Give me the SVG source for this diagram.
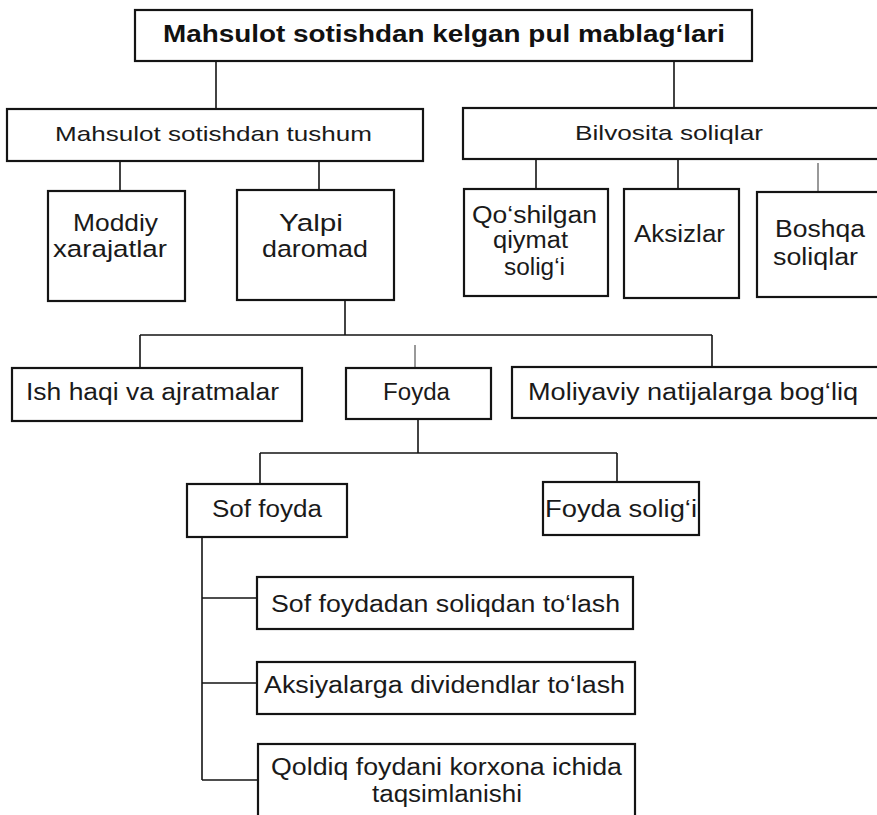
<svg xmlns="http://www.w3.org/2000/svg" width="877" height="815" viewBox="0 0 877 815">
<style>
.box{fill:#fff;stroke:#141414;stroke-width:2.2}
.ln{stroke:#141414;stroke-width:1.6;fill:none}
.faint{stroke:#555;stroke-width:1.2;fill:none}
text{font-family:"Liberation Sans",Arial,sans-serif;font-size:23.5px;fill:#1a1a1a}
.b{font-weight:bold;font-size:23.5px;fill:#111}
.m{font-size:21px}
.l{font-size:24.5px}
</style>
<rect width="877" height="815" fill="#fff"/>
<g id="connectors">
<path class="ln" d="M216 61V108M674 61V108"/>
<path class="ln" d="M120 161V191M319 161V190"/>
<path class="ln" d="M536 159V189M678 159V189"/>
<path class="faint" d="M818 163V192"/>
<path class="ln" d="M345 300V335M140 335H712M140 335V368M712 335V367"/>
<path class="faint" d="M415 345V368"/>
<path class="ln" d="M418 419V453M260 453H617M260 453V484M617 453V482"/>
<path class="ln" d="M202 537V780M202 598H257M202 683H257M202 780H258"/>
</g>
<g id="n-top"><rect class="box" x="135" y="10" width="617" height="51"/><text class="b" x="163" y="42" textLength="562" lengthAdjust="spacingAndGlyphs">Mahsulot sotishdan kelgan pul mablag‘lari</text></g>
<g id="n-tushum"><rect class="box" x="7" y="109" width="416" height="52"/><text class="m" x="55" y="141" textLength="317" lengthAdjust="spacingAndGlyphs">Mahsulot sotishdan tushum</text></g>
<g id="n-bilvosita"><rect class="box" x="463" y="108" width="420" height="51"/><text class="m" x="575" y="140" textLength="188" lengthAdjust="spacingAndGlyphs">Bilvosita soliqlar</text></g>
<g id="n-moddiy"><rect class="box" x="48" y="191" width="137" height="110"/><text class="l" x="73" y="231" textLength="85" lengthAdjust="spacingAndGlyphs">Moddiy</text><text class="l" x="53" y="257" textLength="114" lengthAdjust="spacingAndGlyphs">xarajatlar</text></g>
<g id="n-yalpi"><rect class="box" x="237" y="190" width="157" height="110"/><text class="l" x="279" y="231" textLength="64" lengthAdjust="spacingAndGlyphs">Yalpi</text><text class="l" x="262" y="257" textLength="106" lengthAdjust="spacingAndGlyphs">daromad</text></g>
<g id="n-qqs"><rect class="box" x="464" y="189" width="144" height="107"/><text x="472" y="223" textLength="125" lengthAdjust="spacingAndGlyphs">Qo‘shilgan</text><text x="493" y="248" textLength="75" lengthAdjust="spacingAndGlyphs">qiymat</text><text x="504" y="275" textLength="61" lengthAdjust="spacingAndGlyphs">solig‘i</text></g>
<g id="n-aksizlar"><rect class="box" x="624" y="189" width="115" height="109"/><text x="634" y="242" textLength="91" lengthAdjust="spacingAndGlyphs">Aksizlar</text></g>
<g id="n-boshqa"><rect class="box" x="757" y="192" width="125" height="105"/><text x="775" y="237" textLength="90" lengthAdjust="spacingAndGlyphs">Boshqa</text><text x="773" y="265" textLength="85" lengthAdjust="spacingAndGlyphs">soliqlar</text></g>
<g id="n-ishhaqi"><rect class="box" x="12" y="368" width="290" height="53"/><text x="26" y="400" textLength="253" lengthAdjust="spacingAndGlyphs">Ish haqi va ajratmalar</text></g>
<g id="n-foyda"><rect class="box" x="346" y="368" width="145" height="51"/><text x="383" y="400" textLength="67" lengthAdjust="spacingAndGlyphs">Foyda</text></g>
<g id="n-moliyaviy"><rect class="box" x="512" y="367" width="370" height="51"/><text x="528" y="400" textLength="330" lengthAdjust="spacingAndGlyphs">Moliyaviy natijalarga bog‘liq</text></g>
<g id="n-soffoyda"><rect class="box" x="187" y="484" width="160" height="53"/><text x="212" y="517" textLength="110" lengthAdjust="spacingAndGlyphs">Sof foyda</text></g>
<g id="n-foydasoligi"><rect class="box" x="543" y="482" width="156" height="53"/><text x="545" y="517" textLength="152" lengthAdjust="spacingAndGlyphs">Foyda solig‘i</text></g>
<g id="n-soliqdan"><rect class="box" x="257" y="577" width="376" height="52"/><text x="271" y="612" textLength="349" lengthAdjust="spacingAndGlyphs">Sof foydadan soliqdan to‘lash</text></g>
<g id="n-dividend"><rect class="box" x="257" y="662" width="378" height="52"/><text x="264" y="693" textLength="361" lengthAdjust="spacingAndGlyphs">Aksiyalarga dividendlar to‘lash</text></g>
<g id="n-qoldiq"><rect class="box" x="258" y="744" width="377" height="80"/><text x="271" y="775" textLength="351" lengthAdjust="spacingAndGlyphs">Qoldiq foydani korxona ichida</text><text x="372" y="802" textLength="150" lengthAdjust="spacingAndGlyphs">taqsimlanishi</text></g>
</svg>
